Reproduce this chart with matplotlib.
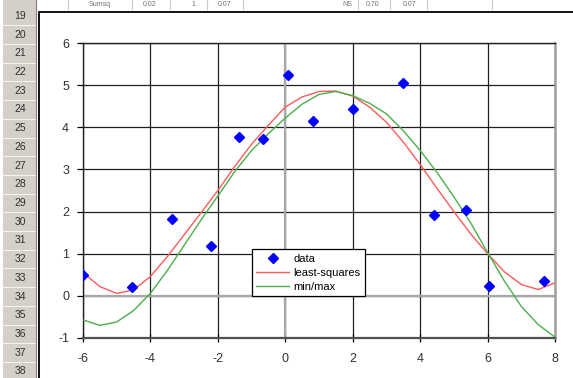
import matplotlib
matplotlib.use("Agg")
import matplotlib.pyplot as plt
from matplotlib.patches import Rectangle
from matplotlib.lines import Line2D

plt.rcParams['font.family'] = ['Liberation Sans', 'DejaVu Sans']
plt.rcParams['axes.unicode_minus'] = False

# observed data
data_x = [-6.0, -4.55, -3.36, -2.19, -1.37, -0.67, 0.09, 0.82, 2.0, 3.5, 4.42, 5.36, 6.03, 7.66]
data_y = [0.50, 0.21, 1.82, 1.19, 3.76, 3.72, 5.23, 4.15, 4.44, 5.04, 1.92, 2.03, 0.24, 0.36]

# fitted curves, sampled every 0.5
curve_x = [-6.0, -5.5, -5.0, -4.5, -4.0, -3.5, -3.0, -2.5, -2.0, -1.5, -1.0, -0.5,
           0.0, 0.5, 1.0, 1.5, 2.0, 2.5, 3.0, 3.5, 4.0, 4.5, 5.0, 5.5, 6.0, 6.5,
           7.0, 7.5, 8.0]
lsq_y = [0.55, 0.22, 0.06, 0.14, 0.46, 0.93, 1.45, 1.97, 2.50, 3.07, 3.60, 4.05,
         4.48, 4.72, 4.85, 4.86, 4.74, 4.48, 4.12, 3.65, 3.12, 2.55, 2.00, 1.47,
         1.00, 0.57, 0.27, 0.15, 0.31]
minmax_y = [-0.57, -0.70, -0.62, -0.35, 0.06, 0.60, 1.20, 1.80, 2.37, 2.95, 3.45,
            3.85, 4.22, 4.55, 4.78, 4.85, 4.75, 4.57, 4.32, 3.92, 3.45, 2.93, 2.35,
            1.73, 1.03, 0.35, -0.25, -0.68, -0.98]

x_ticks = [-6, -4, -2, 0, 2, 4, 6, 8]
y_ticks = [-1, 0, 1, 2, 3, 4, 5, 6]
row_numbers = list(range(19, 39))
series_names = ['data', 'least-squares', 'min/max']

W, H = 573, 378
fig = plt.figure(figsize=(W / 100, H / 100), dpi=100)
fig.patch.set_facecolor('white')

# worksheet backdrop in pixel coordinates
bg = fig.add_axes([0, 0, 1, 1])
bg.set_xlim(0, W)
bg.set_ylim(H, 0)
bg.axis('off')

# row header column
bg.add_patch(Rectangle((3, 0), 33, H, facecolor='#d4d0c8', edgecolor='none'))
row_h = 18.7
for i, n in enumerate(row_numbers):
    yc = 16 + i * row_h
    bg.text(20, yc, str(n), ha='center', va='center', fontsize=7.5, color='#303030')
    bg.plot([3, 36], [yc + row_h / 2, yc + row_h / 2], color='#f4f4f4', lw=0.8)
bg.plot([36, 36], [0, H], color='#808080', lw=0.8)

# cells of the row above the chart
for xc, txt in [(100, 'Sumsq'), (150, '0.02'), (193, '1'), (225, '0.07'),
                (347, 'NS'), (373, '0.70'), (410, '0.07')]:
    bg.text(xc, 5, txt, ha='center', va='center', fontsize=5, color='#707070')
for xv in [68, 132, 170, 207, 243, 358, 390, 427, 492]:
    bg.plot([xv, xv], [0, 9], color='#c8c8c8', lw=0.8)

# chart area
bg.add_patch(Rectangle((38.5, 11.5), 600, 400, facecolor='white',
                       edgecolor='black', lw=1.3))

# plot area
x0, x1, y0, y1 = 83, 555, 43, 338
ax = fig.add_axes([x0 / W, 1 - y1 / H, (x1 - x0) / W, (y1 - y0) / H])
ax.set_xlim(-6, 8)
ax.set_ylim(-1, 6)
ax.set_xticks(x_ticks)
ax.set_yticks(y_ticks)
ax.grid(True, color='#202020', lw=0.9)
ax.set_axisbelow(True)

# axis lines through the origin
ax.axhline(0, color='#a8a8a8', lw=1.6, zorder=1.5)
ax.axvline(0, color='#a8a8a8', lw=1.6, zorder=1.5)

for side in ['left', 'top']:
    ax.spines[side].set_color('#202020')
    ax.spines[side].set_linewidth(1.0)
ax.spines['bottom'].set_color('#505050')
ax.spines['bottom'].set_linewidth(1.6)
ax.spines['right'].set_color('#a0a0a0')
ax.spines['right'].set_linewidth(1.8)

ax.tick_params(axis='y', direction='out', length=4, width=0.9, pad=6,
               labelsize=9, labelcolor='#303030')
ax.tick_params(axis='x', direction='inout', length=6, width=0.9, pad=8,
               labelsize=9, labelcolor='#303030')

ax.plot(curve_x, lsq_y, color='#ff5a5a', lw=1.0, zorder=3)
ax.plot(curve_x, minmax_y, color='#4caf4c', lw=1.0, zorder=3)
ax.plot(data_x, data_y, linestyle='none', marker='D', markersize=5,
        color='#0000ff', zorder=4)

handles = [
    Line2D([], [], linestyle='none', marker='D', markersize=5, color='#0000ff'),
    Line2D([], [], color='#ff5a5a', lw=1.0),
    Line2D([], [], color='#4caf4c', lw=1.0),
]
leg = ax.legend(handles, series_names, loc='lower left',
                bbox_to_anchor=(0.358, 0.142), fontsize=8,
                frameon=True, fancybox=False, framealpha=1,
                edgecolor='black', handlelength=2.9, handletextpad=0.45,
                labelspacing=0.35, borderpad=0.4, borderaxespad=0)
leg.get_frame().set_linewidth(0.9)
leg.set_zorder(5)

fig.savefig('out.png', dpi=100, facecolor='white')
